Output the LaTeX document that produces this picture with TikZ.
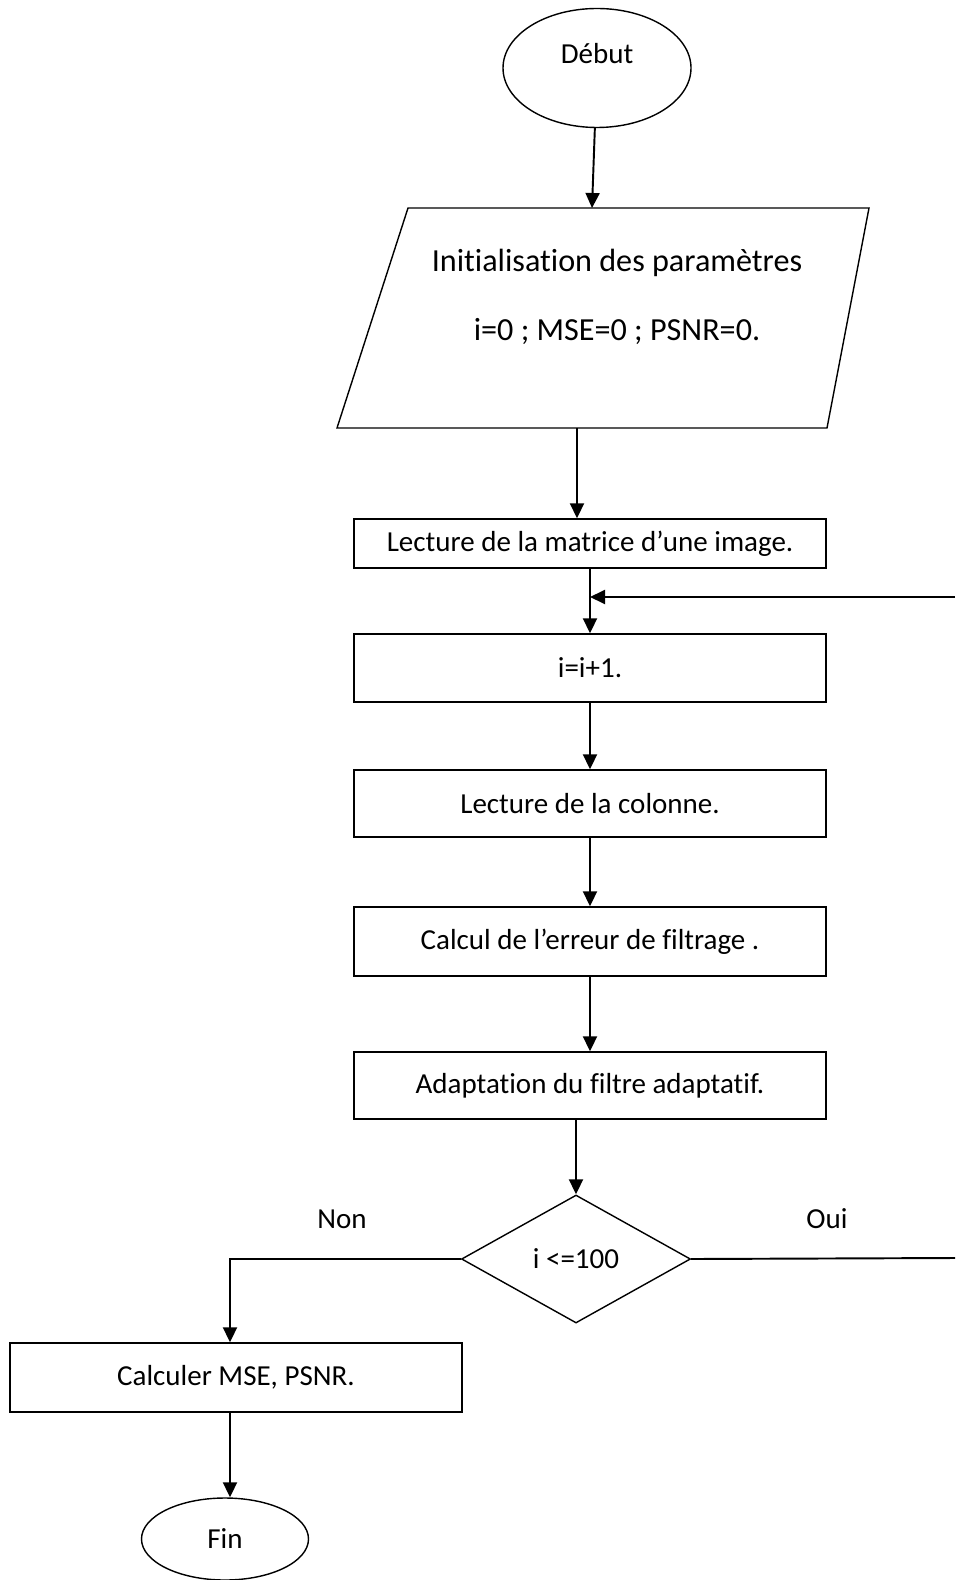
\documentclass[tikz,border=0pt]{standalone}
\usepackage{fontspec}
\setmainfont{Carlito}[Ligatures=CommonOff]
\usetikzlibrary{shapes.geometric,arrows.meta}

\begin{document}
\begin{tikzpicture}[x=0.2mm,y=-0.2mm,
    every node/.style={font=\fontsize{16.5}{19.8}\selectfont, inner sep=0pt},
    terminal/.style={draw, ellipse, line width=0.8pt},
    process/.style={draw, rectangle, line width=0.8pt, minimum width=94.4mm},
    decision/.style={draw, diamond, line width=0.8pt, minimum width=45.8mm, minimum height=25.6mm},
    flow/.style={-{Triangle[length=3mm,width=2.8mm]}, line width=1.1pt}]
  \useasboundingbox (0,0) rectangle (955,1580);
  % start
  \node [terminal, minimum width=37.6mm, minimum height=23.8mm,
         label={[yshift=2.8mm]center:Début}] (debut) at (597,68) {};
  % parallelogram of the parameters
  \coordinate (pTL) at (408,208);
  \coordinate (pTR) at (869,208);
  \coordinate (pBR) at (827,428);
  \coordinate (pBL) at (337,428);
  \draw [line width=0.8pt] (pTL) -- (pTR) -- (pBR) -- (pBL) -- cycle;
  \node [align=center, font=\fontsize{18.3}{39}\selectfont] (init) at (617,297)
        {Initialisation des paramètres\\ i=0 ; MSE=0 ; PSNR=0.};
  \coordinate (initT) at (592,208);
  \coordinate (initB) at (577,428);
  % boxes
  \node [process, minimum height=9.8mm] (matrice) at (590,543.5) {Lecture de la matrice d’une image.};
  \node [process, minimum height=13.6mm] (incr) at (590,668) {i=i+1.};
  \node [process, minimum height=13.4mm] (colonne) at (590,803.5) {Lecture de la colonne.};
  \node [process, minimum height=13.8mm] (erreur) at (590,941.5) {Calcul de l’erreur de filtrage .};
  \node [process, minimum height=13.4mm] (adapt) at (590,1085.5) {Adaptation du filtre adaptatif.};
  % test
  \node [decision] (cond) at (576,1259) {i <=100};
  \node (non) at (342,1219) {Non};
  \node (oui) at (827,1219) {Oui};
  \node [process, minimum width=90.4mm, minimum height=13.8mm] (calcul) at (236,1377.5) {Calculer MSE, PSNR.};
  \node [terminal, minimum width=33.4mm, minimum height=16.4mm] (fin) at (225,1539) {Fin};
  % loop back
  \coordinate (ouiR) at (955,1258);
  \coordinate (retour) at (955,597);
  % connectors
  \draw [flow] (debut) -- (initT);
  \draw [flow] (initB) -- (initB |- matrice.north);
  \draw [flow] (matrice) -- (incr);
  \draw [flow] (incr) -- (colonne);
  \draw [flow] (colonne) -- (erreur);
  \draw [flow] (erreur) -- (adapt);
  \draw [flow] (adapt.south -| cond.north) -- (cond.north);
  \draw [line width=1.1pt] (cond.east) -- (ouiR);
  \draw [flow] (retour) -- (retour -| incr.north);
  \draw [flow] (cond.west) -| ([xshift=-1.2mm]calcul.north);
  \draw [flow] ([xshift=-1.2mm]calcul.south) -- ([xshift=-1.2mm]calcul.south |- fin.north);
\end{tikzpicture}
\end{document}
